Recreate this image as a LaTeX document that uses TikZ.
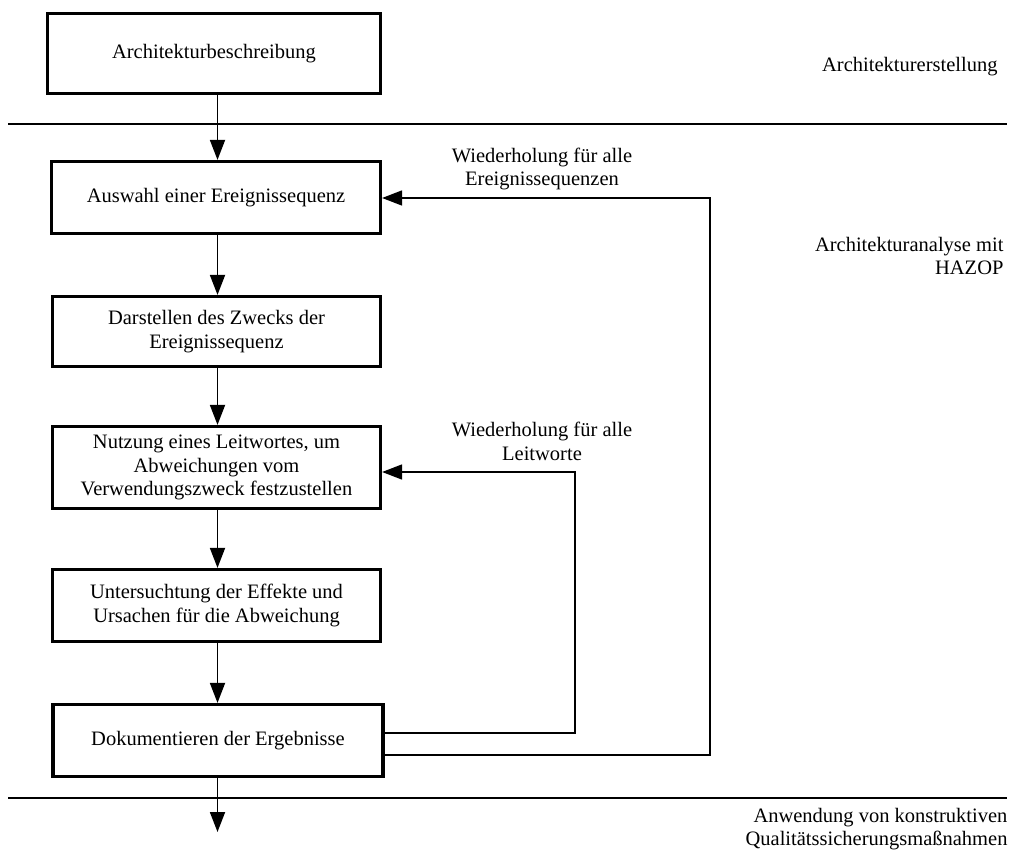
\documentclass[tikz,border=0pt]{standalone}
\usepackage{fontspec}
\setmainfont{Liberation Serif}
\usetikzlibrary{arrows.meta}
\begin{document}
\begin{tikzpicture}[x=1pt,y=-1pt,
  every node/.style={font=\fontsize{20.5}{23.5}\selectfont},
  stepbox/.style={draw,line width=3.2pt,rectangle,align=center,inner sep=0pt},
  flow/.style={line width=1.8pt,-{Triangle[length=20pt,width=15pt]}},
  back/.style={line width=1.6pt,-{Triangle[length=20pt,width=15pt]}},
  sep/.style={line width=1.8pt},
  phase/.style={align=right,anchor=east}]
\useasboundingbox (0,0) rectangle (1014,850);

% process steps
\node[stepbox,minimum width=333pt,minimum height=80pt] (b1) at (214,53.5) {Architekturbeschreibung};
\node[stepbox,minimum width=329pt,minimum height=72pt] (b2) at (216,197.5) {Auswahl einer Ereignissequenz};
\node[stepbox,minimum width=328pt,minimum height=70pt] (b3) at (216.5,331.5) {Darstellen des Zwecks der\\Ereignissequenz};
\node[stepbox,minimum width=328pt,minimum height=82pt] (b4) at (216.5,467.5) {Nutzung eines Leitwortes, um\\Abweichungen vom\\Verwendungszweck festzustellen};
\node[stepbox,minimum width=328pt,minimum height=72pt] (b5) at (216.5,605.5) {Untersuchtung der Effekte und\\Ursachen für die Abweichung};
\node[stepbox,minimum width=330pt,minimum height=72pt] (b6) at (218,740.5) {Dokumentieren der Ergebnisse};

% phase separators
\coordinate (s1l) at (8,124);  \coordinate (s1r) at (1007,124);
\coordinate (s2l) at (8,798);  \coordinate (s2r) at (1007,798);
\draw[sep] (s1l) -- (s1r);
\draw[sep] (s2l) -- (s2r);

% phase labels
\node[phase] (p1) at (1001,67) {Architekturerstellung};
\node[phase] (p2) at (1007,256) {Architekturanalyse mit\\HAZOP};
\node[phase] (p3) at (1011,829) {Anwendung von konstruktiven\\Qualitätssicherungsmaßnahmen};

% main flow
\coordinate (ax) at (217.5,0);
\coordinate (out) at (217.5,832);
\draw[flow] (b1.south -| ax) -- (b2.north -| ax);
\draw[flow] (b2.south -| ax) -- (b3.north -| ax);
\draw[flow] (b3.south -| ax) -- (b4.north -| ax);
\draw[flow] (b4.south -| ax) -- (b5.north -| ax);
\draw[flow] (b5.south -| ax) -- (b6.north -| ax);
\draw[flow] (b6.south -| ax) -- (out);

% repetition loops
\coordinate (o1) at (384,755); \coordinate (c1) at (710,755); \coordinate (t1) at (710,198);
\coordinate (o2) at (384,733); \coordinate (c2) at (575,733); \coordinate (t2) at (575,472);
\draw[back] (o1) -- (c1) -- (t1) -- (b2.east |- t1);
\draw[back] (o2) -- (c2) -- (t2) -- (b4.east |- t2);

\node[align=center] (l1) at (542,169) {Wiederholung für alle\\Ereignissequenzen};
\node[align=center] (l2) at (542,441.5) {Wiederholung für alle\\Leitworte};
\end{tikzpicture}
\end{document}
